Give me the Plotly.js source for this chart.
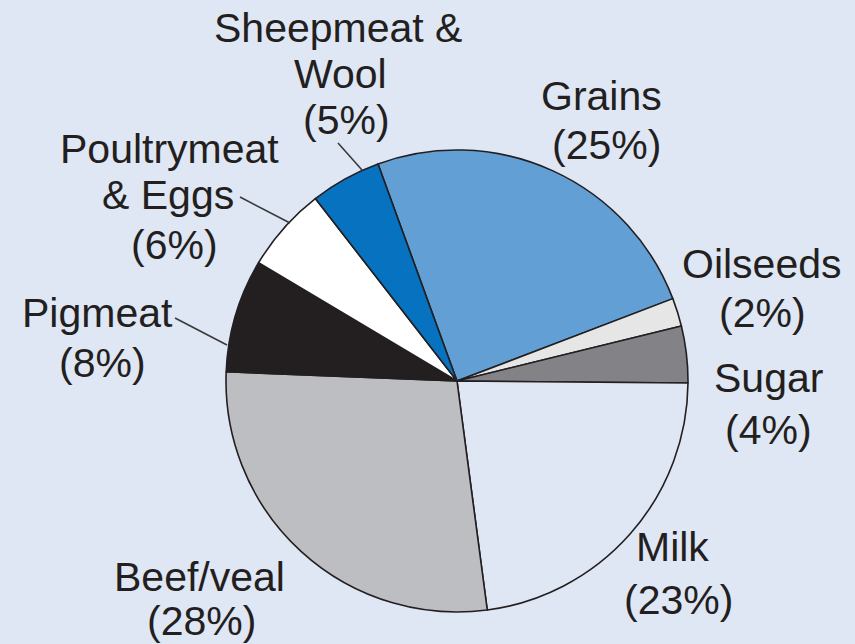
<!DOCTYPE html>
<html>
<head>
<meta charset="utf-8">
<script src="https://cdn.plot.ly/plotly-3.0.1.min.js"></script>
<style>
  html, body { margin: 0; padding: 0; background: #dfe6f4; }
  #chart { width: 855px; height: 644px; }
</style>
</head>
<body>
<div id="chart"></div>
<script>
// ---- Data ----
const categories = ['Grains', 'Oilseeds', 'Sugar', 'Milk', 'Beef/veal', 'Pigmeat', 'Poultrymeat & Eggs', 'Sheepmeat & Wool'];
const shares = [25, 2, 4, 23, 28, 8, 6, 5];

// ---- Styling / layout constants ----
const W = 855, H = 644;
const sliceColors = ['#629fd5', '#e6e6e7', '#838387', '#dfe6f4', '#bdbec2', '#231f20', '#ffffff', '#0672c0'];
const nameLines = {
  'Sheepmeat & Wool': ['Sheepmeat &', 'Wool'],
  'Poultrymeat & Eggs': ['Poultrymeat', '& Eggs']
};
// pixel centres of each text line (name lines then percentage line)
const labelPos = {
  'Grains': [[601, 96], [606, 145]],
  'Oilseeds': [[762, 264], [762, 313]],
  'Sugar': [[768, 378], [768, 430]],
  'Milk': [[672, 547], [678, 600]],
  'Beef/veal': [[199, 577], [201, 621]],
  'Pigmeat': [[97, 313], [102, 363]],
  'Poultrymeat & Eggs': [[169, 149], [168, 195], [174, 245]],
  'Sheepmeat & Wool': [[338, 28], [340, 74], [346, 120]]
};
const leaders = [
  [[338, 143], [362, 170]],
  [[240, 197], [290, 223]],
  [[175, 318], [227, 345]]
];
const pieCenter = [457, 381], pieR = 231;

const annotations = [];
categories.forEach((c, i) => {
  const lines = (nameLines[c] || [c]).concat(['(' + shares[i] + '%)']);
  lines.forEach((t, j) => {
    const p = labelPos[c][j];
    annotations.push({
      text: t, showarrow: false,
      xref: 'paper', yref: 'paper',
      x: p[0] / W, y: 1 - p[1] / H,
      xanchor: 'center', yanchor: 'middle',
      font: {family: 'Liberation Sans, Arial, sans-serif', size: 41, color: '#231f20'}
    });
  });
});

const shapes = leaders.map(l => ({
  type: 'line', xref: 'paper', yref: 'paper',
  x0: l[0][0] / W, y0: 1 - l[0][1] / H,
  x1: l[1][0] / W, y1: 1 - l[1][1] / H,
  line: {color: '#3a3a3a', width: 1.6}
}));

const trace = {
  type: 'pie',
  labels: categories,
  values: shares,
  sort: false,
  direction: 'clockwise',
  rotation: -20,
  textinfo: 'none',
  hoverinfo: 'skip',
  marker: {colors: sliceColors, line: {color: '#231f20', width: 1.6}},
  domain: {
    x: [(pieCenter[0] - pieR) / W, (pieCenter[0] + pieR) / W],
    y: [1 - (pieCenter[1] + pieR) / H, 1 - (pieCenter[1] - pieR) / H]
  },
  showlegend: false
};

const layout = {
  width: W, height: H,
  margin: {l: 0, r: 0, t: 0, b: 0},
  paper_bgcolor: '#dfe6f4',
  plot_bgcolor: '#dfe6f4',
  showlegend: false,
  annotations: annotations,
  shapes: shapes
};

Plotly.newPlot('chart', [trace], layout, {displayModeBar: false, staticPlot: true});
</script>
</body>
</html>
